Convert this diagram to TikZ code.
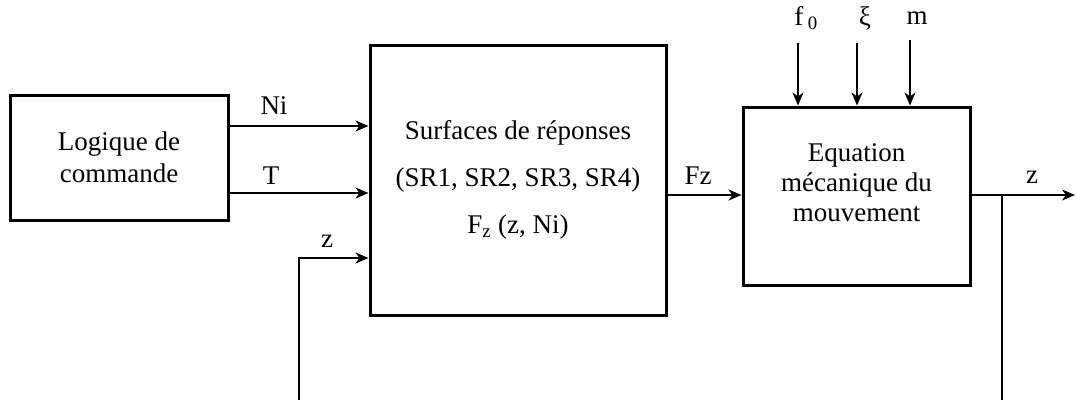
\documentclass[tikz,border=0pt]{standalone}
\usepackage{fontspec}
\setmainfont{Liberation Serif}
\usetikzlibrary{arrows.meta,positioning,calc}

\begin{document}
\begin{tikzpicture}[x=1pt,y=-1pt,
    block/.style={draw,line width=3pt,inner sep=0pt,align=center,font=\fontsize{27}{30}\selectfont},
    sig/.style={line width=1.6pt,-{Stealth[length=13pt,width=11pt,inset=4pt]}},
    lbl/.style={inner sep=1pt,font=\fontsize{27}{30}\selectfont}]
    \useasboundingbox (0,0) rectangle (1077,400);
    % Blocks
    \node[block,minimum width=218pt,minimum height=125pt] (logic) at (119,157.5) {Logique de\\[2pt]commande};
    \node[block,minimum width=296pt,minimum height=270pt] (surf) at (518,180)
        {Surfaces de réponses\\[17pt](SR1, SR2, SR3, SR4)\\[17pt]F\textsubscript{z} (z, Ni)};
    \node[block,minimum width=227pt,minimum height=178pt] (eqn) at (856.5,196) {};
    \node[align=center,font=\fontsize{27}{30}\selectfont] (eqntext) at ([yshift=13pt]eqn.center)
        {Equation\\mécanique du\\mouvement};

    % Free ends
    \coordinate (out) at (1075,195);
    \coordinate (br) at (1002,195);
    \coordinate (brend) at (1002,400);
    \coordinate (fbk) at (299,400);
    \coordinate (f0in) at (798,43);
    \coordinate (xiin) at (857,43);
    \coordinate (min) at (910,40);

    % Connections
    \draw[sig] (logic.east |- 0,126) -- (surf.west |- 0,126);
    \draw[sig] (logic.east |- 0,193) -- (surf.west |- 0,193);
    \draw[sig] (fbk) |- (surf.west |- 0,258);
    \draw[sig] (surf.east |- 0,195) -- (eqn.west |- 0,195);
    \draw[sig] (eqn.east |- out) -- (out);
    \draw[line width=1.6pt] (br) -- (brend);
    \foreach \p in {f0in,xiin,min} {
        \draw[sig] (\p) -- (eqn.north -| \p);
    }

    % Labels
    \node[lbl] (lni) at (274,106) {Ni};
    \node[lbl] (lt) at (271,176) {T};
    \node[lbl] (lz) at (327,241) {z};
    \node[lbl] (lfz) at (698,176) {Fz};
    \node[lbl] (lzout) at (1032,177) {z};
    \node[lbl] (lf0) at (806,18) {f\,\textsubscript{0}};
    \node[lbl] (lxi) at (865,18) {ξ};
    \node[lbl] (lm) at (917,18) {m};
\end{tikzpicture}
\end{document}
